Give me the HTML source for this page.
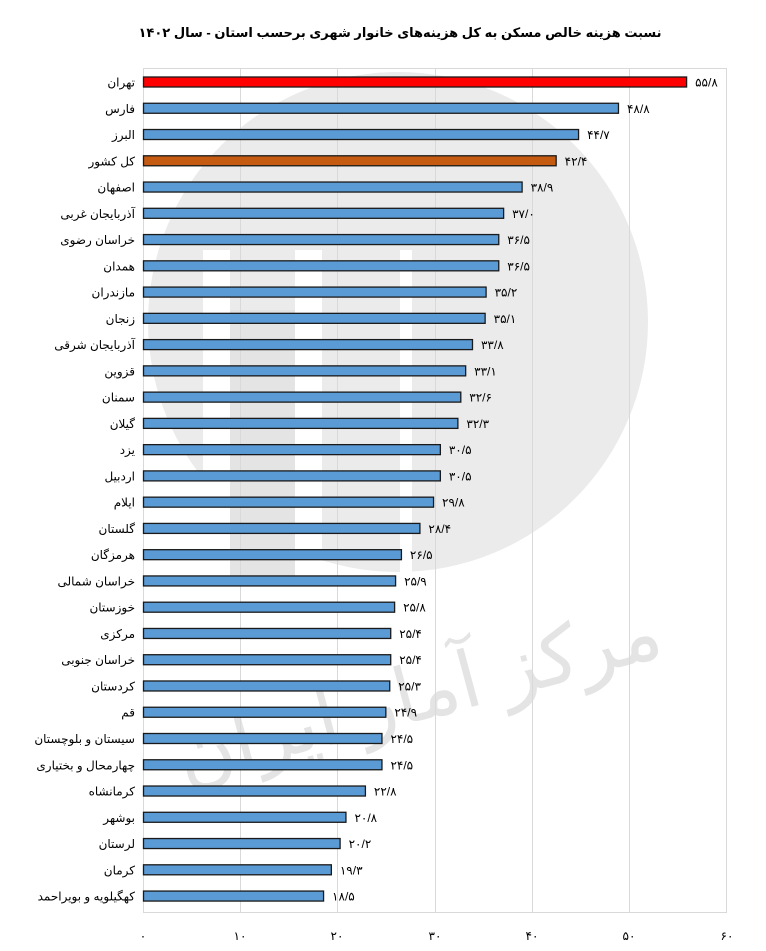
<!DOCTYPE html>
<html><head><meta charset="utf-8"><style>
html,body{margin:0;padding:0;background:#fff;}
svg{display:block;}
text{font-family:"Liberation Sans","DejaVu Sans",sans-serif;}
</style></head><body>
<svg width="766" height="951" viewBox="0 0 766 951" xmlns="http://www.w3.org/2000/svg">
<rect width="766" height="951" fill="#fff"/>
<text x="400" y="37" text-anchor="middle" direction="rtl" font-size="13" font-weight="bold" fill="#000">نسبت هزینه خالص مسکن به کل هزینه‌های خانوار شهری برحسب استان - سال ۱۴۰۲</text>
<!-- watermark -->
<circle cx="398" cy="322" r="250" fill="#ebebeb"/>
<rect x="203" y="250" width="27" height="330" fill="#fff"/>
<rect x="295" y="250" width="27" height="330" fill="#fff"/>
<rect x="400" y="250" width="12" height="330" fill="#fff"/>
<rect x="230" y="310" width="65" height="270" fill="#e4e4e4"/>
<text x="420" y="720" text-anchor="middle" font-size="78" fill="#e4e4e4" transform="rotate(-15 420 700)" font-family="'DejaVu Sans',sans-serif">مرکز آمار ایران</text>
<!-- grid -->
<g stroke="#d9d9d9" stroke-width="1">
<line x1="240.5" y1="68" x2="240.5" y2="912"/>
<line x1="337.5" y1="68" x2="337.5" y2="912"/>
<line x1="435.5" y1="68" x2="435.5" y2="912"/>
<line x1="532.5" y1="68" x2="532.5" y2="912"/>
<line x1="629.5" y1="68" x2="629.5" y2="912"/>
</g>
<rect x="143.5" y="68.5" width="583" height="844" fill="none" stroke="#d9d9d9"/>
<g id="bars"></g>
<g font-size="12" fill="#000">
<text x="143" y="940" text-anchor="middle">۰</text>
<text x="240" y="940" text-anchor="middle">۱۰</text>
<text x="337" y="940" text-anchor="middle">۲۰</text>
<text x="435" y="940" text-anchor="middle">۳۰</text>
<text x="532" y="940" text-anchor="middle">۴۰</text>
<text x="629" y="940" text-anchor="middle">۵۰</text>
<text x="727" y="940" text-anchor="middle">۶۰</text>
</g>
</svg>
<script>
var d=[["تهران",55.8,"۵۵/۸","#ff0000"],["فارس",48.8,"۴۸/۸"],["البرز",44.7,"۴۴/۷"],["کل کشور",42.4,"۴۲/۴","#c55a11"],["اصفهان",38.9,"۳۸/۹"],["آذربایجان غربی",37.0,"۳۷/۰"],["خراسان رضوی",36.5,"۳۶/۵"],["همدان",36.5,"۳۶/۵"],["مازندران",35.2,"۳۵/۲"],["زنجان",35.1,"۳۵/۱"],["آذربایجان شرقی",33.8,"۳۳/۸"],["قزوین",33.1,"۳۳/۱"],["سمنان",32.6,"۳۲/۶"],["گیلان",32.3,"۳۲/۳"],["یزد",30.5,"۳۰/۵"],["اردبیل",30.5,"۳۰/۵"],["ایلام",29.8,"۲۹/۸"],["گلستان",28.4,"۲۸/۴"],["هرمزگان",26.5,"۲۶/۵"],["خراسان شمالی",25.9,"۲۵/۹"],["خوزستان",25.8,"۲۵/۸"],["مرکزی",25.4,"۲۵/۴"],["خراسان جنوبی",25.4,"۲۵/۴"],["کردستان",25.3,"۲۵/۳"],["قم",24.9,"۲۴/۹"],["سیستان و بلوچستان",24.5,"۲۴/۵"],["چهارمحال و بختیاری",24.5,"۲۴/۵"],["کرمانشاه",22.8,"۲۲/۸"],["بوشهر",20.8,"۲۰/۸"],["لرستان",20.2,"۲۰/۲"],["کرمان",19.3,"۱۹/۳"],["کهگیلویه و بویراحمد",18.5,"۱۸/۵"]];
var g=document.getElementById('bars'),s='';
d.forEach(function(r,i){var cy=82+i*26.26,w=r[1]*9.733;var c=r[3]||'#5b9bd5';
s+='<rect x="143.5" y="'+(cy-5)+'" width="'+w+'" height="10" fill="'+c+'" stroke="#1a1a1a" stroke-width="1.3"/>';
s+='<text x="135" y="'+(cy+4.5)+'" text-anchor="start" direction="rtl" font-size="12">'+r[0]+'</text>';
s+='<text x="'+(143+w+9)+'" y="'+(cy+4.5)+'" font-size="12">'+r[2]+'</text>';});
g.innerHTML=s;
</script>
</body></html>
